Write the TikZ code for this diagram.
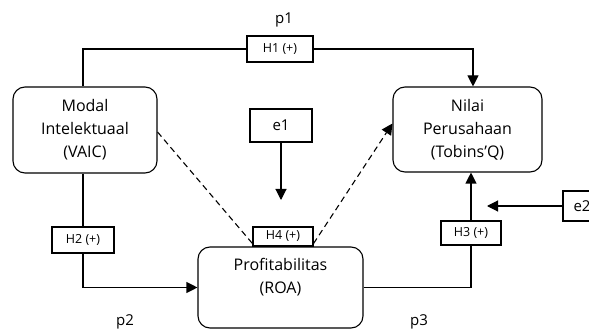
\documentclass[tikz,border=0pt]{standalone}
\usepackage{fontspec}
\setmainfont{Open Sans}
\usetikzlibrary{arrows.meta}

\begin{document}
\begin{tikzpicture}[x=1pt,y=-1pt,line width=1.1pt,
	varbox/.style={draw,rounded corners=12pt,align=center,font=\fontsize{16}{23}\selectfont},
	hypbox/.style={draw,inner sep=0,font=\fontsize{12.5}{14}\selectfont},
	errbox/.style={draw,inner sep=0,font=\fontsize{15}{17}\selectfont},
	pathlabel/.style={font=\fontsize{15}{17}\selectfont},
	arr/.style={-{Triangle[length=11pt,width=11pt]}},
	dashline/.style={dash pattern=on 6pt off 4pt}]
	\useasboundingbox (0,0) rectangle (589,331);
	\clip (0,0) rectangle (589,331);
	\node[varbox,minimum width=144pt,minimum height=86pt] (modal) at (85,130) {Modal\\Intelektuaal\\(VAIC)};
	\node[varbox,minimum width=149pt,minimum height=85pt] (nilai) at (467.5,129.5) {Nilai\\Perusahaan\\(Tobins'Q)};
	\node[varbox,minimum width=165pt,minimum height=81pt,text depth=24pt] (prof) at (280.5,287.5) {Profitabilitas\\(ROA)};
	\node[hypbox,minimum width=66pt,minimum height=26pt] (h1) at (280,49) {H1 (+)};
	\node[hypbox,minimum width=62pt,minimum height=26pt] (h2) at (83,240) {H2 (+)};
	\node[hypbox,minimum width=60pt,minimum height=24pt] (h3) at (471,233) {H3 (+)};
	\node[hypbox,minimum width=60pt,minimum height=19pt] (h4) at (283,236.5) {H4 (+)};
	\node[errbox,minimum width=62pt,minimum height=33pt] (e1) at (281,125.5) {e1};
	\node[errbox,minimum width=38pt,minimum height=30pt] (e2) at (582,206) {e2};
	\node[pathlabel] (p1) at (284,20) {p1};
	\node[pathlabel] (p2) at (125,322) {p2};
	\node[pathlabel] (p3) at (419,322) {p3};
	\coordinate (e1end) at (281,200);
	\coordinate (e2end) at (487,206);
	\draw ([xshift=-2pt]modal.north) |- (h1.west);
	\draw[arr] (h1.east) -| ([xshift=5.5pt]nilai.north);
	\draw ([xshift=-2pt]modal.south) -- (h2.north);
	\draw[arr] (h2.south) |- (prof.west);
	\draw (prof.east) -| (h3.south);
	\draw[arr] (h3.north) -- (h3.north |- nilai.south);
	\draw[arr] (e1.south) -- (e1end);
	\draw[arr] (e2.west) -- (e2end);
	\draw[dashline] ([yshift=-2pt]modal.east) -- ([yshift=3pt]h4.south west);
	\draw[dashline,arr] ([yshift=3pt]h4.south east) -- ([yshift=6pt]nilai.west);
\end{tikzpicture}
\end{document}
